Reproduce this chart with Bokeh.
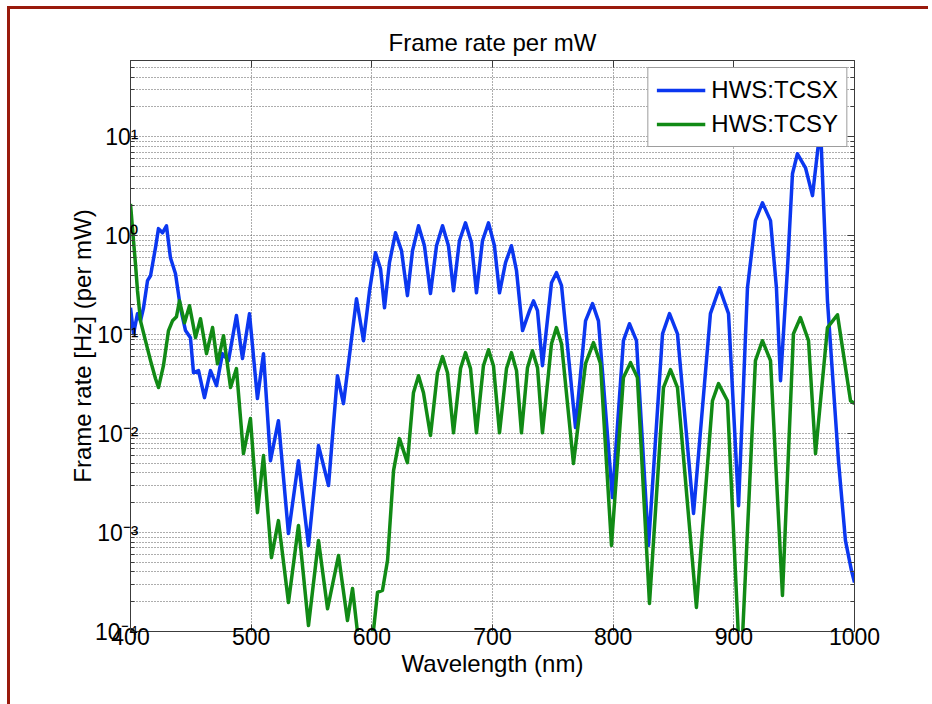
from bokeh.plotting import figure
from bokeh.models import Range1d, LogAxis, LinearAxis, FixedTicker, Div
from bokeh.layouts import column
from bokeh.embed import file_html
from bokeh.resources import INLINE

# ---------------- data ----------------
TITLE = "Frame rate per mW"
X_LABEL = "Wavelength (nm)"
Y_LABEL = "Frame rate [Hz] (per mW)"
SERIES_NAMES = ["HWS:TCSX", "HWS:TCSY"]
XTICKS = [400, 500, 600, 700, 800, 900, 1000]
YEXPONENTS = [-4, -3, -2, -1, 0, 1]
YTICK_LABELS = ["10\u207b\u2074", "10\u207b\u00b3", "10\u207b\u00b2",
                "10\u207b\u00b9", "10\u2070", "10\u00b9"]

TCSX_WL = [400.0, 402.5, 405.8, 408.3, 410.8, 414.1, 416.6, 420.7, 423.2, 426.5,
           429.8, 433.1, 437.3, 441.4, 445.6, 449.7, 452.2, 456.4, 461.3, 466.3,
           471.3, 476.2, 481.2, 487.8, 492.8, 498.6, 505.2, 510.2, 516.0, 522.6,
           530.9, 539.2, 547.5, 555.8, 564.1, 571.5, 576.5, 587.3, 593.1, 598.1,
           603.0, 607.2, 610.5, 614.6, 619.6, 624.6, 629.5, 633.7, 638.7, 643.6,
           648.6, 653.6, 658.6, 663.5, 667.7, 672.6, 677.6, 682.6, 686.7, 691.7,
           696.7, 701.6, 705.8, 710.8, 715.7, 719.9, 724.9, 730.7, 734.0, 737.3,
           741.4, 748.9, 753.0, 757.2, 768.8, 777.1, 782.9, 787.8,
           799.4, 808.5, 813.5, 819.3, 829.3, 840.9, 846.7, 853.3, 866.6, 880.6,
           888.1, 895.6, 903.9, 911.3, 917.9, 923.7, 930.4, 935.3, 938.7, 944.5,
           948.6, 952.7, 959.4, 965.2, 971.8, 977.6, 986.7, 992.5, 997.5, 1000.0]
TCSX_VAL = [0.187, 0.102, 0.163, 0.138, 0.187, 0.351, 0.394, 0.757, 1.18, 1.07,
            1.26, 0.60, 0.413, 0.187, 0.110, 0.093, 0.0413, 0.0433, 0.0231, 0.0433,
            0.0305, 0.0643, 0.0546, 0.156, 0.0573, 0.163, 0.0226, 0.0643, 0.00533, 0.0135,
            0.000977, 0.00533, 0.00074, 0.00757, 0.00299, 0.0385, 0.0201, 0.231, 0.0869, 0.278,
            0.673, 0.464, 0.187, 0.534, 1.07, 0.705, 0.248, 0.705, 1.26, 0.792,
            0.26, 0.792, 1.26, 0.792, 0.278, 0.889, 1.35, 0.849, 0.265, 0.889,
            1.35, 0.792, 0.265, 0.534, 0.792, 0.443, 0.110, 0.175, 0.22, 0.175,
            0.0486, 0.335, 0.423, 0.313, 0.0115, 0.138, 0.206, 0.138,
            0.00226, 0.0869, 0.129, 0.0869, 0.00074, 0.102, 0.163, 0.102, 0.00156, 0.163,
            0.298, 0.163, 0.00187, 0.298, 1.42, 2.15, 1.42, 0.298, 0.0343, 0.475,
            4.23, 6.73, 4.86, 2.54, 12.9, 0.22, 0.00533, 0.00083, 0.000413, 0.000313]

TCSY_WL = [400.0, 402.5, 404.1, 405.8, 408.3, 412.4, 416.6, 420.7, 423.2, 427.3,
           431.5, 434.8, 438.1, 440.6, 444.8, 448.9, 453.9, 458.0, 463.0, 468.0,
           472.1, 477.1, 482.9, 487.8, 493.6, 499.4, 505.2, 510.2, 516.8, 522.6,
           530.9, 539.2, 547.5, 555.8, 563.3, 572.4, 579.8, 584.0, 588.9, 594.7,
           600.5, 604.7, 608.8, 613.0, 618.0, 622.9, 629.5, 634.5, 638.7, 642.8,
           648.6, 654.4, 658.6, 662.7, 667.7, 673.5, 677.6, 681.8, 686.7, 692.5,
           696.7, 700.8, 705.8, 711.6, 715.7, 719.9, 724.0, 729.0, 733.1, 737.3,
           741.4, 748.9, 753.0, 757.2,
           767.1, 777.1, 783.7, 789.5, 798.6, 808.5, 814.4, 820.1, 830.1, 841.7,
           847.5, 853.3, 869.0, 882.3, 887.3, 894.7, 905.5, 917.9, 923.7, 930.4,
           940.3, 949.4, 955.2, 961.9, 967.7, 977.6, 985.9, 996.7, 1000.0]
TCSY_VAL = [2.10, 0.889, 0.521, 0.278, 0.138, 0.0869, 0.0546, 0.036, 0.0292, 0.0486,
            0.110, 0.138, 0.152, 0.22, 0.132, 0.196, 0.0933, 0.145, 0.0643, 0.118,
            0.0509, 0.0977, 0.0292, 0.0454, 0.00628, 0.0142, 0.00159, 0.006, 0.000558, 0.00132,
            0.000196, 0.00118, 0.000115, 0.00083, 0.00017, 0.000586, 0.000129, 0.000272, 8.1e-5, 2.5e-5,
            8.1e-5, 0.000248, 0.00026, 0.000521, 0.00423, 0.0089, 0.00509, 0.0259, 0.0385, 0.0259,
            0.00955, 0.0413, 0.06, 0.0413, 0.0102, 0.0454, 0.0658, 0.0454, 0.0102, 0.0486,
            0.0705, 0.0486, 0.0102, 0.0454, 0.0658, 0.0433, 0.0102, 0.0464, 0.0689, 0.0464,
            0.0102, 0.0811, 0.118, 0.0811,
            0.00498, 0.0509, 0.083, 0.0509, 0.00074, 0.0368, 0.0521, 0.0368, 0.000192, 0.0292,
            0.0443, 0.0292, 0.000175, 0.0215, 0.032, 0.0215, 3.2e-5, 0.0546, 0.0869, 0.0546,
            0.000231, 0.102, 0.149, 0.0869, 0.00628, 0.118, 0.159, 0.0215, 0.0201]

# ---------------- styling ----------------
FONT = "Liberation Sans"
BLUE = "#0b37f0"
GREEN = "#118a15"
AXIS_COLOR = "#3c3c3c"
GRID_COLOR = "#5a5a5a"
BORDER_RED = "#991a0c"

y_major = [10.0 ** k for k in YEXPONENTS]
y_minor = [m * 10.0 ** k for k in YEXPONENTS for m in range(2, 10)]
y_ticker = FixedTicker(ticks=y_major, minor_ticks=y_minor)
x_ticker = FixedTicker(ticks=XTICKS, minor_ticks=[])

# The figure sits 10px/9px in from the page corner; a dark-red rule runs
# along the top (thin Div) and the left (shadow strip), like the reference frame.
p = figure(width=918, height=695,
           x_range=Range1d(400, 1000), y_range=Range1d(1e-4, 59),
           y_axis_type="log", output_backend="svg", toolbar_location=None,
           title=TITLE,
           min_border_left=120, min_border_right=74,
           min_border_top=51, min_border_bottom=73)
p.margin = (0, 0, 0, 10)
p.styles = {"box-shadow": "-3px 0px 0px 0px " + BORDER_RED}
p.background_fill_color = "white"
p.border_fill_color = "white"
p.outline_line_color = AXIS_COLOR

top_rule = Div(text="", width=921, height=3, margin=(6, 0, 0, 7),
               styles={"background-color": BORDER_RED, "overflow": "hidden"})

p.title.align = "center"
p.title.text_font = FONT
p.title.text_font_style = "normal"
p.title.text_font_size = "24px"
p.title.text_color = "black"
p.title.standoff = 10

# grids
p.xgrid.ticker = x_ticker
p.ygrid.ticker = y_ticker
for g in (p.xgrid, p.ygrid):
    g.grid_line_color = GRID_COLOR
    g.grid_line_dash = "1 2"
    g.grid_line_width = 1
p.ygrid.minor_grid_line_color = GRID_COLOR
p.ygrid.minor_grid_line_dash = "1 2"
p.ygrid.minor_grid_line_width = 1


def style_axis(ax, ticker):
    ax.ticker = ticker
    ax.axis_line_color = AXIS_COLOR
    ax.major_tick_line_color = AXIS_COLOR
    ax.minor_tick_line_color = AXIS_COLOR
    ax.major_tick_in = 7
    ax.major_tick_out = 0
    ax.minor_tick_in = 4
    ax.minor_tick_out = 0
    ax.major_label_text_font = FONT
    ax.major_label_text_color = "black"
    ax.axis_label_text_font = FONT
    ax.axis_label_text_font_style = "normal"
    ax.axis_label_text_font_size = "24px"
    ax.axis_label_text_color = "black"


xa = p.xaxis[0]
style_axis(xa, x_ticker)
xa.major_label_text_font_size = "23px"
xa.major_label_standoff = -4
xa.axis_label = X_LABEL
xa.axis_label_standoff = 2

ya = p.yaxis[0]
style_axis(ya, y_ticker)
ya.major_label_text_font_size = "23px"
ya.major_label_standoff = -8
ya.major_label_overrides = {v: s for v, s in zip(y_major, YTICK_LABELS)}
ya.axis_label = Y_LABEL
ya.axis_label_standoff = -4

top_ax = LinearAxis()
style_axis(top_ax, x_ticker)
top_ax.major_label_overrides = {t: "" for t in XTICKS}
top_ax.major_label_standoff = 0
p.add_layout(top_ax, "above")
right_ax = LogAxis()
style_axis(right_ax, y_ticker)
right_ax.major_label_overrides = {v: "" for v in y_major}
right_ax.major_label_standoff = 0
p.add_layout(right_ax, "right")

# curves
p.line(TCSX_WL, TCSX_VAL, line_color=BLUE, line_width=3.5,
       legend_label=SERIES_NAMES[0], line_join="round")
p.line(TCSY_WL, TCSY_VAL, line_color=GREEN, line_width=3.5,
       legend_label=SERIES_NAMES[1], line_join="round")

# legend
lg = p.legend[0]
lg.location = "top_right"
lg.margin = 7
lg.border_line_color = AXIS_COLOR
lg.border_line_width = 1
lg.background_fill_color = "white"
lg.background_fill_alpha = 1
lg.label_text_font = FONT
lg.label_text_font_size = "24px"
lg.label_text_color = "black"
lg.glyph_width = 49
lg.glyph_height = 24
lg.label_height = 24
lg.label_standoff = 6
lg.padding = 8
lg.spacing = 6

root = column(top_rule, p, spacing=0)
open("out.html", "w").write(file_html(root, INLINE))
